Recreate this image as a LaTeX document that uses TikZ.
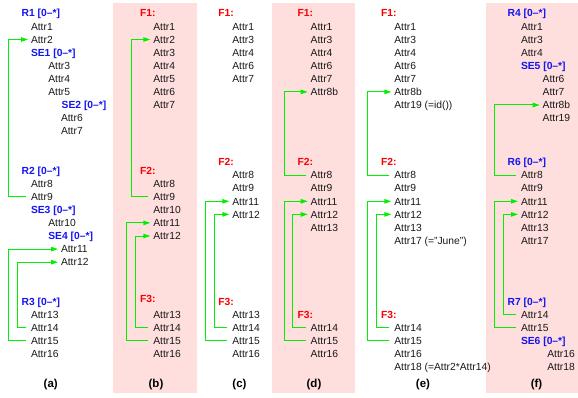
\documentclass[tikz,border=0pt]{standalone}
\usepackage{fontspec}
\setmainfont{Liberation Sans}
\usetikzlibrary{arrows.meta}
\definecolor{pinkbg}{RGB}{255,222,222}
\definecolor{lgreen}{RGB}{0,240,0}
\definecolor{hblue}{RGB}{20,20,245}
\definecolor{hred}{RGB}{250,0,0}
\begin{document}
\begin{tikzpicture}[x=1pt,y=-1pt,
  every node/.style={inner sep=0pt, outer sep=0pt, anchor=west, text height=7.4pt, text depth=0pt,
    font=\fontsize{10.3}{12}\selectfont, text=black!90},
  hb/.style={font=\fontsize{10.3}{12}\selectfont\bfseries, text=hblue},
  hr/.style={font=\fontsize{10.3}{12}\selectfont\bfseries, text=hred},
  captext/.style={anchor=center, text height=6pt, text depth=0pt, font=\fontsize{11.5}{13}\selectfont\bfseries, text=black},
  conn/.style={draw=lgreen, line width=1pt, -{Triangle[length=7pt,width=4.5pt]}, shorten <=5pt, shorten >=3pt},
  bg/.style={fill=pinkbg, draw=none}]
\useasboundingbox (0,0) rectangle (578,398);
% backgrounds
\fill[bg] (113,3) rectangle (197,393);
\fill[bg] (271.7,3) rectangle (355,393);
\fill[bg] (485.7,3) rectangle (578,393);

% ---------- (a) ----------
\node[hb] (ar1) at (21.7,13.3) {R1 [0–*]};
\node (a1) at (31,26.4) {Attr1};
\node (a2) at (31,39.5) {Attr2};
\node[hb] (ase1) at (31,52.6) {SE1 [0–*]};
\node (a3) at (48.3,65.7) {Attr3};
\node (a4) at (48.3,78.8) {Attr4};
\node (a5) at (48.3,91.9) {Attr5};
\node[hb] (ase2) at (61.7,105) {SE2 [0–*]};
\node (a6) at (61,118.1) {Attr6};
\node (a7) at (61,131.2) {Attr7};
\node[hb] (ar2) at (21.7,170.8) {R2 [0–*]};
\node (a8) at (31,183.6) {Attr8};
\node (a9) at (31,196.7) {Attr9};
\node[hb] (ase3) at (31,209.8) {SE3 [0–*]};
\node (a10) at (48.3,222.9) {Attr10};
\node[hb] (ase4) at (48.3,236) {SE4 [0–*]};
\node (a11) at (61,249.1) {Attr11};
\node (a12) at (61,262.2) {Attr12};
\node[hb] (ar3) at (21.7,302) {R3 [0–*]};
\node (a13) at (31,314.6) {Attr13};
\node (a14) at (31,327.7) {Attr14};
\node (a15) at (31,340.8) {Attr15};
\node (a16) at (31,353.9) {Attr16};
\node[captext] (capa) at (50.7,384) {(a)};
\draw[conn] (a9.west) -- ++(-23,0) |- (a2.west);
\draw[conn] (a15.west) -- ++(-23,0) |- (a11.west);
\draw[conn] (a14.west) -- ++(-13.7,0) |- (a12.west);

% ---------- (b) ----------
\node[hr] (bf1) at (140,13.3) {F1:};
\node (b1) at (153.3,26.4) {Attr1};
\node (b2) at (153.3,39.5) {Attr2};
\node (b3) at (153.3,52.6) {Attr3};
\node (b4) at (153.3,65.7) {Attr4};
\node (b5) at (153.3,78.8) {Attr5};
\node (b6) at (153.3,91.9) {Attr6};
\node (b7) at (153.3,105) {Attr7};
\node[hr] (bf2) at (140,170.8) {F2:};
\node (b8) at (153.3,183.6) {Attr8};
\node (b9) at (153.3,196.7) {Attr9};
\node (b10) at (153.3,209.8) {Attr10};
\node (b11) at (153.3,222.9) {Attr11};
\node (b12) at (153.3,236) {Attr12};
\node[hr] (bf3) at (140,298.3) {F3:};
\node (b13) at (153.3,314.6) {Attr13};
\node (b14) at (153.3,327.7) {Attr14};
\node (b15) at (153.3,340.8) {Attr15};
\node (b16) at (153.3,353.9) {Attr16};
\node[captext] (capb) at (156,384) {(b)};
\draw[conn] (b9.west) -- ++(-22.3,0) |- (b2.west);
\draw[conn] (b15.west) -- ++(-26.6,0) |- (b11.west);
\draw[conn] (b14.west) -- ++(-17.6,0) |- (b12.west);

% ---------- (c) ----------
\node[hr] (cf1) at (218.3,13.3) {F1:};
\node (c1) at (232.3,26.4) {Attr1};
\node (c3) at (232.3,39.5) {Attr3};
\node (c4) at (232.3,52.6) {Attr4};
\node (c6) at (232.3,65.7) {Attr6};
\node (c7) at (232.3,78.8) {Attr7};
\node[hr] (cf2) at (218.3,162) {F2:};
\node (c8) at (232.3,175.1) {Attr8};
\node (c9) at (232.3,188.2) {Attr9};
\node (c11) at (232.3,201.3) {Attr11};
\node (c12) at (232.3,214.4) {Attr12};
\node[hr] (cf3) at (218.3,302) {F3:};
\node (c13) at (232.3,314.6) {Attr13};
\node (c14) at (232.3,327.7) {Attr14};
\node (c15) at (232.3,340.8) {Attr15};
\node (c16) at (232.3,353.9) {Attr16};
\node[captext] (capc) at (239.5,384) {(c)};
\draw[conn] (c15.west) -- ++(-26.6,0) |- (c11.west);
\draw[conn] (c14.west) -- ++(-18,0) |- (c12.west);

% ---------- (d) ----------
\node[hr] (df1) at (297.7,13.3) {F1:};
\node (d1) at (310.7,26.4) {Attr1};
\node (d3) at (310.7,39.5) {Attr3};
\node (d4) at (310.7,52.6) {Attr4};
\node (d6) at (310.7,65.7) {Attr6};
\node (d7) at (310.7,78.8) {Attr7};
\node (d8b) at (310.7,91.9) {Attr8b};
\node[hr] (df2) at (297.7,162) {F2:};
\node (d8) at (310.7,175.1) {Attr8};
\node (d9) at (310.7,188.2) {Attr9};
\node (d11) at (310.7,201.3) {Attr11};
\node (d12) at (310.7,214.4) {Attr12};
\node (d13) at (310.7,227.5) {Attr13};
\node[hr] (df3) at (297.7,315.2) {F3:};
\node (d14) at (310.7,327.7) {Attr14};
\node (d15) at (310.7,340.8) {Attr15};
\node (d16) at (310.7,353.9) {Attr16};
\node[captext] (capd) at (314,384) {(d)};
\draw[conn] (d8.west) -- ++(-26.4,0) |- (d8b.west);
\draw[conn] (d15.west) -- ++(-26.4,0) |- (d11.west);
\draw[conn] (d14.west) -- ++(-18,0) |- (d12.west);

% ---------- (e) ----------
\node[hr] (ef1) at (381,13.3) {F1:};
\node (e1) at (394.3,26.4) {Attr1};
\node (e3) at (394.3,39.5) {Attr3};
\node (e4) at (394.3,52.6) {Attr4};
\node (e6) at (394.3,65.7) {Attr6};
\node (e7) at (394.3,78.8) {Attr7};
\node (e8b) at (394.3,91.9) {Attr8b};
\node (e19) at (394.3,105) {Attr19 (=id())};
\node[hr] (ef2) at (381,162) {F2:};
\node (e8) at (394.3,175.1) {Attr8};
\node (e9) at (394.3,188.2) {Attr9};
\node (e11) at (394.3,201.3) {Attr11};
\node (e12) at (394.3,214.4) {Attr12};
\node (e13) at (394.3,227.5) {Attr13};
\node (e17) at (394.3,240.6) {Attr17 (="June")};
\node[hr] (ef3) at (381,315.2) {F3:};
\node (e14) at (394.3,327.7) {Attr14};
\node (e15) at (394.3,340.8) {Attr15};
\node (e16) at (394.3,353.9) {Attr16};
\node (e18) at (394.3,367) {Attr18 (=Attr2*Attr14)};
\node[captext] (cape) at (423,384) {(e)};
\draw[conn] (e8.west) -- ++(-26.6,0) |- (e8b.west);
\draw[conn] (e15.west) -- ++(-26.6,0) |- (e11.west);
\draw[conn] (e14.west) -- ++(-17.6,0) |- (e12.west);

% ---------- (f) ----------
\node[hb] (fr4) at (507.7,13.3) {R4 [0–*]};
\node (f1) at (521,26.4) {Attr1};
\node (f3) at (521,39.5) {Attr3};
\node (f4) at (521,52.6) {Attr4};
\node[hb] (fse5) at (521,65.7) {SE5 [0–*]};
\node (f6) at (542.7,78.8) {Attr6};
\node (f7) at (542.7,91.9) {Attr7};
\node (f8b) at (542.7,105) {Attr8b};
\node (f19) at (542.7,118.1) {Attr19};
\node[hb] (fr6) at (507.7,162) {R6 [0–*]};
\node (f8) at (521,175.1) {Attr8};
\node (f9) at (521,188.2) {Attr9};
\node (f11) at (521,201.3) {Attr11};
\node (f12) at (521,214.4) {Attr12};
\node (f13) at (521,227.5) {Attr13};
\node (f17) at (521,240.6) {Attr17};
\node[hb] (fr7) at (507.7,302) {R7 [0–*]};
\node (f14) at (521,314.6) {Attr14};
\node (f15) at (521,327.7) {Attr15};
\node[hb] (fse6) at (521,340.8) {SE6 [0–*]};
\node (f16) at (547.3,353.9) {Attr16};
\node (f18) at (547.3,367) {Attr18};
\node[captext] (capf) at (536.5,384) {(f)};
\draw[conn] (f8.west) -- ++(-26.7,0) |- (f8b.west);
\draw[conn] (f15.west) -- ++(-26.7,0) |- (f11.west);
\draw[conn] (f14.west) -- ++(-17.7,0) |- (f12.west);
\end{tikzpicture}
\end{document}
